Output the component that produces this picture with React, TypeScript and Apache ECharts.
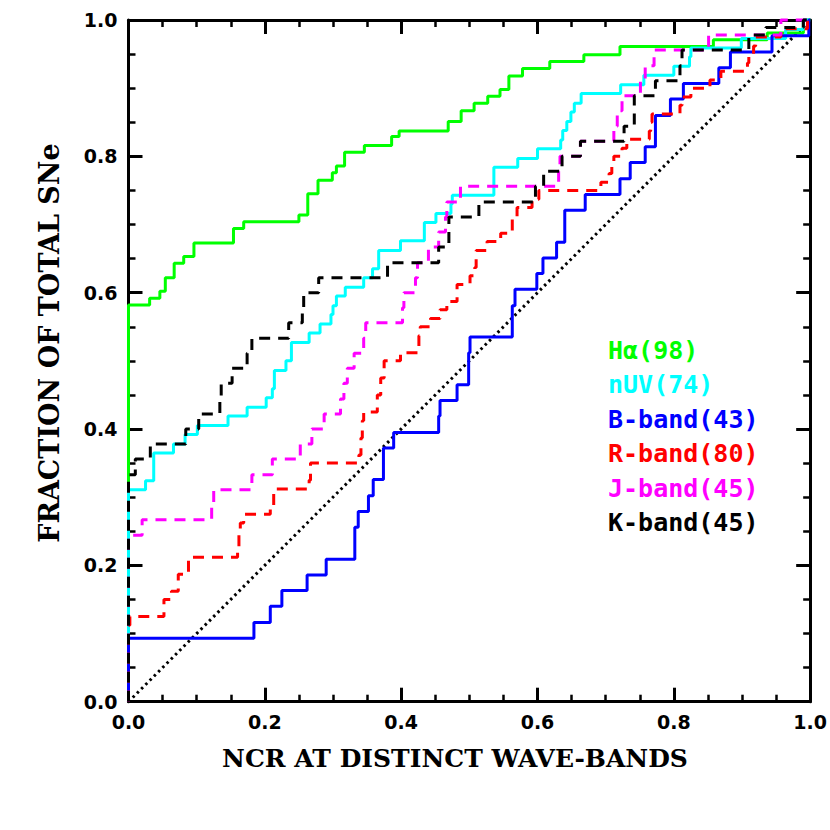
import React, { useEffect, useRef } from "react";
import * as echarts from "echarts";

// Cumulative fractions (step points: x where the fraction jumps, y after jump)
const haX = [0, 0, 0.031, 0.046, 0.054, 0.067, 0.081, 0.096, 0.154, 0.169, 0.25, 0.263, 0.278, 0.299, 0.305, 0.317, 0.346, 0.386, 0.397, 0.469, 0.488, 0.507, 0.527, 0.545, 0.558, 0.578, 0.618, 0.668, 0.721, 0.858, 0.937, 0.99, 1.0];
const haY = [0, 0.582, 0.592, 0.602, 0.622, 0.643, 0.653, 0.673, 0.694, 0.704, 0.714, 0.745, 0.765, 0.776, 0.786, 0.806, 0.816, 0.829, 0.837, 0.851, 0.867, 0.878, 0.888, 0.898, 0.918, 0.929, 0.939, 0.949, 0.961, 0.971, 0.981, 1.0, 1.0];

const nuvX = [0, 0, 0.025, 0.037, 0.066, 0.083, 0.101, 0.146, 0.174, 0.202, 0.211, 0.214, 0.231, 0.239, 0.265, 0.281, 0.297, 0.3, 0.305, 0.318, 0.345, 0.358, 0.367, 0.399, 0.434, 0.451, 0.473, 0.475, 0.536, 0.571, 0.6, 0.634, 0.637, 0.643, 0.649, 0.654, 0.664, 0.722, 0.756, 0.8, 0.823, 0.825, 0.899, 0.964, 0.99, 1.0];
const nuvY = [0, 0.311, 0.324, 0.365, 0.378, 0.392, 0.405, 0.419, 0.432, 0.446, 0.459, 0.486, 0.5, 0.527, 0.541, 0.554, 0.568, 0.581, 0.595, 0.608, 0.622, 0.635, 0.662, 0.676, 0.703, 0.716, 0.73, 0.743, 0.784, 0.797, 0.811, 0.824, 0.838, 0.851, 0.865, 0.878, 0.892, 0.905, 0.919, 0.932, 0.946, 0.959, 0.973, 0.986, 1.0, 1.0];

const bX = [0, 0, 0.184, 0.208, 0.225, 0.262, 0.29, 0.332, 0.337, 0.352, 0.359, 0.374, 0.389, 0.455, 0.457, 0.482, 0.499, 0.501, 0.563, 0.567, 0.599, 0.608, 0.628, 0.64, 0.67, 0.721, 0.736, 0.758, 0.773, 0.795, 0.814, 0.866, 0.883, 0.944, 0.998, 1.0];
const bY = [0, 0.093, 0.116, 0.14, 0.163, 0.186, 0.209, 0.256, 0.279, 0.302, 0.326, 0.372, 0.395, 0.419, 0.442, 0.465, 0.512, 0.535, 0.581, 0.605, 0.628, 0.651, 0.674, 0.721, 0.744, 0.767, 0.791, 0.814, 0.86, 0.884, 0.907, 0.93, 0.953, 0.977, 1.0, 1.0];

const rX = [0, 0, 0.002, 0.052, 0.063, 0.073, 0.088, 0.16, 0.162, 0.164, 0.169, 0.208, 0.213, 0.265, 0.267, 0.338, 0.341, 0.343, 0.345, 0.365, 0.37, 0.375, 0.399, 0.426, 0.428, 0.443, 0.457, 0.467, 0.482, 0.501, 0.508, 0.51, 0.526, 0.546, 0.563, 0.57, 0.592, 0.602, 0.693, 0.705, 0.709, 0.712, 0.724, 0.731, 0.764, 0.766, 0.768, 0.809, 0.812, 0.825, 0.853, 0.869, 0.908, 0.91, 0.917, 0.92, 0.957, 0.996, 1.0];
const rY = [0, 0.112, 0.125, 0.15, 0.162, 0.187, 0.212, 0.225, 0.25, 0.262, 0.275, 0.287, 0.312, 0.325, 0.35, 0.362, 0.387, 0.412, 0.425, 0.45, 0.475, 0.5, 0.512, 0.537, 0.55, 0.562, 0.575, 0.587, 0.612, 0.625, 0.637, 0.662, 0.675, 0.687, 0.712, 0.725, 0.737, 0.75, 0.762, 0.775, 0.787, 0.8, 0.812, 0.825, 0.837, 0.85, 0.862, 0.875, 0.887, 0.9, 0.912, 0.925, 0.937, 0.95, 0.962, 0.975, 0.987, 1.0, 1.0];

const jX = [0, 0, 0.02, 0.122, 0.125, 0.181, 0.211, 0.252, 0.269, 0.287, 0.311, 0.316, 0.321, 0.331, 0.345, 0.348, 0.402, 0.404, 0.421, 0.424, 0.44, 0.455, 0.465, 0.467, 0.487, 0.631, 0.633, 0.663, 0.712, 0.717, 0.724, 0.751, 0.758, 0.771, 0.851, 0.957, 1.0];
const jY = [0, 0.244, 0.267, 0.289, 0.311, 0.333, 0.356, 0.378, 0.4, 0.422, 0.444, 0.467, 0.489, 0.511, 0.533, 0.556, 0.578, 0.6, 0.622, 0.644, 0.667, 0.689, 0.711, 0.733, 0.756, 0.778, 0.8, 0.822, 0.844, 0.867, 0.889, 0.911, 0.933, 0.956, 0.978, 1.0, 1.0];

const kX = [0, 0, 0.01, 0.032, 0.084, 0.103, 0.134, 0.136, 0.152, 0.174, 0.181, 0.235, 0.255, 0.257, 0.279, 0.38, 0.455, 0.47, 0.514, 0.597, 0.609, 0.636, 0.663, 0.727, 0.742, 0.773, 0.809, 0.812, 0.91, 0.935, 0.99, 1.0];
const kY = [0, 0.333, 0.356, 0.378, 0.4, 0.422, 0.444, 0.467, 0.489, 0.511, 0.533, 0.556, 0.578, 0.6, 0.622, 0.644, 0.667, 0.711, 0.733, 0.756, 0.778, 0.8, 0.822, 0.844, 0.889, 0.911, 0.933, 0.956, 0.978, 0.989, 1.0, 1.0];

const diagX = [0, 1];
const diagY = [0, 1];

const legendLabels = ["Hα(98)", "nUV(74)", "B-band(43)", "R-band(80)", "J-band(45)", "K-band(45)"];
const legendColors = ["#00ff00", "#00ffff", "#0000ff", "#ff0000", "#ff00ff", "#000000"];

const xTitle = "NCR AT DISTINCT WAVE-BANDS";
const yTitle = "FRACTION OF TOTAL SNe";

const zip = (xs: number[], ys: number[]) => xs.map((x, i) => [x, ys[i]]);

export default function App() {
  const ref = useRef<HTMLDivElement>(null);
  useEffect(() => {
    if (!ref.current) return;
    const chart = echarts.init(ref.current, undefined, { renderer: "svg" });

    const baseAxis = (extra: any) => ({
      type: "value",
      min: 0,
      max: 1,
      interval: 0.2,
      axisLine: { show: true, onZero: false, lineStyle: { color: "#000", width: 3 } },
      axisTick: { show: true, inside: true, length: 14, lineStyle: { color: "#000", width: 3 } },
      minorTick: { show: true, splitNumber: 4, length: 7, lineStyle: { color: "#000", width: 2.5 } },
      splitLine: { show: false },
      minorSplitLine: { show: false },
      ...extra,
    });
    const labelStyle = {
      color: "#000",
      fontSize: 19,
      fontWeight: "bold",
      fontFamily: "DejaVu Sans",
      formatter: (v: number) => v.toFixed(1),
    };

    const stepSeries = (name: string, xs: number[], ys: number[], color: string, dashed: boolean) => ({
      name,
      type: "line",
      step: "end",
      data: zip(xs, ys),
      symbol: "none",
      clip: false,
      lineStyle: { color, width: 3, type: dashed ? [11, 8] : "solid" },
      z: 3,
    });

    const legendGraphics = legendLabels.map((t, i) => ({
      type: "text",
      left: 608,
      top: 353 + i * 34.4 - 15,
      style: {
        text: t,
        fill: legendColors[i],
        fontSize: 25,
        fontWeight: "bold",
        fontFamily: "DejaVu Sans Mono",
      },
    }));

    chart.setOption({
      animation: false,
      backgroundColor: "#fff",
      grid: { left: 128.5, top: 20, right: 19.5, bottom: 128.3, containLabel: false },
      xAxis: [
        baseAxis({ position: "bottom", axisLabel: { ...labelStyle, margin: 11 } }),
        baseAxis({ position: "top", axisLabel: { show: false } }),
      ],
      yAxis: [
        baseAxis({ position: "left", axisLabel: { ...labelStyle, margin: 11 } }),
        baseAxis({ position: "right", axisLabel: { show: false } }),
      ],
      graphic: [
        {
          type: "text",
          x: 455,
          y: 758,
          style: {
            text: xTitle,
            fill: "#000",
            fontSize: 25,
            fontWeight: "bold",
            fontFamily: "DejaVu Serif",
            align: "center",
            verticalAlign: "middle",
          },
        },
        {
          type: "text",
          x: 49,
          y: 343,
          rotation: Math.PI / 2,
          style: {
            text: yTitle,
            fill: "#000",
            fontSize: 27,
            fontWeight: "bold",
            fontFamily: "DejaVu Serif",
            align: "center",
            verticalAlign: "middle",
          },
        },
        ...legendGraphics,
      ],
      series: [
        {
          name: "diag",
          type: "line",
          data: zip(diagX, diagY),
          symbol: "none",
          clip: false,
          lineStyle: { color: "#000", width: 3, type: [2.5, 3.5] },
          z: 2,
        },
        stepSeries("Hα", haX, haY, legendColors[0], false),
        stepSeries("nUV", nuvX, nuvY, legendColors[1], false),
        stepSeries("B-band", bX, bY, legendColors[2], false),
        stepSeries("R-band", rX, rY, legendColors[3], true),
        stepSeries("J-band", jX, jY, legendColors[4], true),
        stepSeries("K-band", kX, kY, legendColors[5], true),
      ],
    });
    return () => chart.dispose();
  }, []);
  return (
    <div
      ref={ref}
      style={{ position: "absolute", left: 0, top: 0, width: 830, height: 830, background: "#fff" }}
    />
  );
}
